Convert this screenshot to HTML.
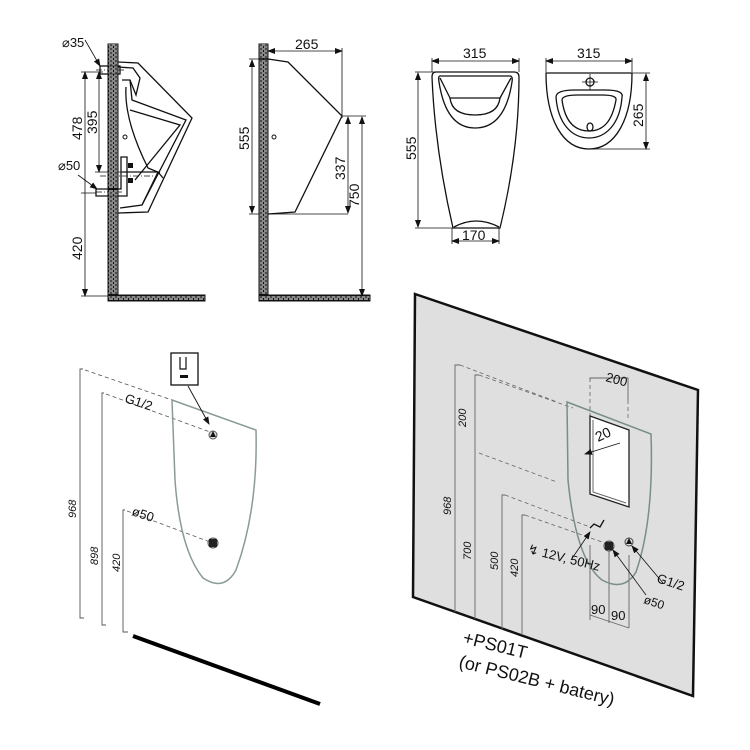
<!DOCTYPE html>
<html><head><meta charset="utf-8"><style>
html,body{margin:0;padding:0;background:#fff;}
svg{display:block;}
text{font-family:"Liberation Sans",sans-serif;fill:#111;}
</style></head><body>
<svg width="750" height="750" viewBox="0 0 750 750" xmlns="http://www.w3.org/2000/svg">
<defs>
<pattern id="brick" width="5" height="4" patternUnits="userSpaceOnUse">
<rect width="5" height="4" fill="#fff"/>
<path d="M0 0H5M0 2H5M0 4H5M1 0V2M3.5 2V4" stroke="#111" stroke-width="1"/>
</pattern>
<marker id="ar" markerWidth="8" markerHeight="6" refX="7" refY="3" orient="auto" markerUnits="userSpaceOnUse"><path d="M0 0L8 3L0 6z" fill="#111"/></marker>
<marker id="al" markerWidth="8" markerHeight="6" refX="1" refY="3" orient="auto" markerUnits="userSpaceOnUse"><path d="M8 0L0 3L8 6z" fill="#111"/></marker>
</defs>

<!-- ============ TOP LEFT: side section ============ -->
<rect x="108" y="44" width="10" height="252" fill="url(#brick)" stroke="#111" stroke-width="1"/>
<rect x="108" y="295" width="97" height="6" fill="url(#brick)" stroke="#111" stroke-width="1"/>
<g fill="none" stroke="#111" stroke-width="1.3">
<path d="M118 62L138 63L192 118L148 212L118 213"/>
<path d="M118 67L133 68L140 78L136 95L130 80L122 80"/>
<path d="M130 80L132 100L186 120L142 205L120 208"/>
<path d="M126 87Q124 120 148 168L160 173"/>
<path d="M130 110L180 125L135 180"/>
<path d="M122 172H158L163 178M158 172L142 205"/>
<rect x="100" y="66" width="20" height="8"/>
<path d="M121 157V189H96V196H127V157Z"/>
</g>
<rect x="128" y="163" width="5" height="5" fill="#111"/><rect x="128" y="178" width="5" height="5" fill="#111"/>
<circle cx="125" cy="137" r="2" fill="none" stroke="#111"/>
<path d="M96 70H125M96 192H122M100 176H155" stroke="#111" stroke-width="0.7" stroke-dasharray="6 2 1 2"/>
<g stroke="#111" stroke-width="0.8" fill="none">
<path d="M85 72V296" marker-start="url(#al)" marker-end="url(#ar)"/>
<path d="M99 72V172" marker-start="url(#al)" marker-end="url(#ar)"/>
<path d="M81 72H103M95 172H122M81 296H108M81 193H96"/>
<path d="M85 40L100 66" marker-end="url(#ar)"/>
<path d="M78 175L97 189" marker-end="url(#ar)"/>
</g>
<text x="62" y="47" font-size="13">⌀35</text>
<text x="58" y="170" font-size="13">⌀50</text>
<text font-size="14" transform="translate(82,140) rotate(-90)">478</text>
<text font-size="14" transform="translate(97,134) rotate(-90)">395</text>
<text font-size="14" transform="translate(82,260) rotate(-90)">420</text>

<!-- ============ TOP: second profile ============ -->
<rect x="259" y="44" width="9" height="252" fill="url(#brick)" stroke="#111" stroke-width="1"/>
<rect x="259" y="295" width="111" height="6" fill="url(#brick)" stroke="#111" stroke-width="1"/>
<path d="M268 59L288 62L342 116L295 212L268 214" fill="none" stroke="#111" stroke-width="1.3"/>
<circle cx="274" cy="137" r="2" fill="none" stroke="#111"/>
<g stroke="#111" stroke-width="0.8" fill="none">
<path d="M268 51H342" marker-start="url(#al)" marker-end="url(#ar)"/>
<path d="M342 48V118"/>
<path d="M252 60V213" marker-start="url(#al)" marker-end="url(#ar)"/>
<path d="M249 59H270M249 214H348"/>
<path d="M348 117V213" marker-start="url(#al)" marker-end="url(#ar)"/>
<path d="M362 117V296" marker-start="url(#al)" marker-end="url(#ar)"/>
<path d="M342 116H366"/>
</g>
<text x="295" y="49" font-size="14">265</text>
<text font-size="14" transform="translate(249,150) rotate(-90)">555</text>
<text font-size="14" transform="translate(345,180) rotate(-90)">337</text>
<text font-size="14" transform="translate(359,207) rotate(-90)">750</text>

<!-- ============ TOP: front view ============ -->
<g fill="none" stroke="#111" stroke-width="1.3">
<path d="M436 72H514Q519 72 519 77Q519 150 500 228H453Q435 150 432 77Q432 72 436 72Z"/>
<path d="M440 76H510Q513 76 512 82Q505 128 475 128Q446 128 439 82Q438 76 440 76Z"/>
<path d="M450 98H500Q498 115 475 115Q452 115 450 98Z"/>
<path d="M440 78L450 98M511 78L500 98"/>
<path d="M454 227Q476 215 499 227"/>
</g>
<g stroke="#111" stroke-width="0.8" fill="none">
<path d="M432 61H519" marker-start="url(#al)" marker-end="url(#ar)"/>
<path d="M432 58V72M519 58V72"/>
<path d="M418 73V227" marker-start="url(#al)" marker-end="url(#ar)"/>
<path d="M415 72H436M415 228H454"/>
<path d="M452 241H499" marker-start="url(#al)" marker-end="url(#ar)"/>
<path d="M452 228V244M499 228V244"/>
</g>
<text x="463" y="58" font-size="14">315</text>
<text font-size="14" transform="translate(416,160) rotate(-90)">555</text>
<text x="462" y="240" font-size="14">170</text>

<!-- ============ TOP: top view ============ -->
<g fill="none" stroke="#111" stroke-width="1.3">
<path d="M546 73H632C632 120 615 149 589 149C563 149 546 120 546 73Z"/>
<path d="M556 97Q556 90 575 90H605Q624 90 622 97C620 125 605 138 589 138C573 138 558 125 556 97Z"/>
<path d="M562 100Q562 95 578 95H602Q617 95 616 100C612 122 603 131 589 131C575 131 565 122 562 100Z"/>
<circle cx="590" cy="82" r="4"/>
<ellipse cx="590" cy="127" rx="3" ry="4"/>
</g>
<path d="M582 82H598M590 74V90" stroke="#111" stroke-width="0.8"/>
<g stroke="#111" stroke-width="0.8" fill="none">
<path d="M546 61H632" marker-start="url(#al)" marker-end="url(#ar)"/>
<path d="M546 58V72M632 58V72"/>
<path d="M646 74V149" marker-start="url(#al)" marker-end="url(#ar)"/>
<path d="M632 73H650M590 149H650"/>
</g>
<text x="577" y="58" font-size="14">315</text>
<text font-size="14" transform="translate(643,127) rotate(-90)">265</text>

<!-- ============ BOTTOM LEFT ============ -->
<g stroke="#555" stroke-width="0.9" fill="none">
<path d="M83 369H80V618H84"/>
<path d="M104 393H102V625H106"/>
<path d="M125 510H123V632H128"/>
</g>
<g stroke="#555" stroke-width="0.8" fill="none" stroke-dasharray="4 3">
<path d="M85 370L172 400"/>
<path d="M106 394L210 432"/>
<path d="M127 511L210 542"/>
</g>
<path d="M172 400L256 430Q258 510 236 570Q224 592 203 578Q180 550 175 480Z" fill="none" stroke="#8a9b95" stroke-width="1.5"/>
<circle cx="213" cy="435" r="4" fill="#ddd" stroke="#555"/><path d="M210 437L213 431L216 437Z" fill="#111"/>
<circle cx="213" cy="543" r="5" fill="#ccc" stroke="#555"/><rect x="209" y="539" width="8" height="8" fill="#222"/>
<rect x="171" y="353" width="27" height="32" fill="#fff" stroke="#111" stroke-width="1.3"/>
<path d="M180 357V369H186V357" fill="none" stroke="#111" stroke-width="1.2"/><rect x="180" y="375" width="8" height="3" fill="#111"/>
<path d="M188 386L209 424" stroke="#111" stroke-width="0.9" marker-end="url(#ar)"/>
<path d="M133 636L320 704" stroke="#000" stroke-width="4"/>
<text x="124" y="402" font-size="13" transform="rotate(18 124 402)">G1/2</text>
<text x="131" y="515" font-size="13" transform="rotate(18 131 515)">ø50</text>
<text font-size="11" font-style="italic" transform="translate(76,518) rotate(-90)">968</text>
<text font-size="11" font-style="italic" transform="translate(98,565) rotate(-90)">898</text>
<text font-size="11" font-style="italic" transform="translate(120,572) rotate(-90)">420</text>

<!-- ============ BOTTOM RIGHT: gray wall ============ -->
<path d="M415 294L698 390L693 696L413 597Z" fill="#dfdfdf" stroke="#111" stroke-width="2.5"/>
<g stroke="#666" stroke-width="0.9" fill="none">
<path d="M455 612V365H460"/>
<path d="M475 619V375H479"/>
<path d="M502 630V495H505"/>
<path d="M522 635V515H525"/>
<path d="M590 617V545M609 623V548M629 628V555M590 615L629 628M590 617V620"/>
<path d="M590 380V378H628V400"/>
</g>
<g stroke="#666" stroke-width="0.8" fill="none" stroke-dasharray="4 3">
<path d="M460 365L557 402"/>
<path d="M479 375L573 408"/>
<path d="M479 453L557 482"/>
<path d="M505 495L590 527"/>
<path d="M525 515L605 543"/>
<path d="M590 378V416M628 400V420"/>
</g>
<path d="M567 402L651 434Q654 520 636 572Q624 592 602 580Q576 560 568 480Z" fill="none" stroke="#788e88" stroke-width="1.5"/>
<path d="M590 416L629 430V507L590 494Z" fill="#fff" stroke="#222" stroke-width="1.3"/>
<path d="M593 420V492L626 503" fill="none" stroke="#666" stroke-width="1"/>
<path d="M585 454L620 443" stroke="#111" stroke-width="0.8" marker-start="url(#al)"/>
<circle cx="609" cy="546" r="5" fill="#bbb" stroke="#444"/><rect x="605" y="542" width="8" height="8" fill="#222"/>
<circle cx="629" cy="542" r="4" fill="#ddd" stroke="#444"/><path d="M626 544L629 538L632 544Z" fill="#111"/>
<path d="M590 528L594 524L600 527L604 520" fill="none" stroke="#111" stroke-width="1.3"/>
<g stroke="#111" stroke-width="0.8" fill="none">
<path d="M571 560L590 532" marker-end="url(#ar)"/>
<path d="M646 595L613 550" marker-end="url(#ar)"/>
<path d="M663 583L632 546" marker-end="url(#ar)"/>
</g>
<text x="605" y="381" font-size="13" transform="rotate(15 605 381)">200</text>
<text x="598" y="442" font-size="14" transform="rotate(-25 598 442)">20</text>
<text x="527" y="553" font-size="13" transform="rotate(14 527 553)">↯ 12V, 50Hz</text>
<text x="656" y="582" font-size="13" transform="rotate(18 656 582)">G1/2</text>
<text x="643" y="603" font-size="12" transform="rotate(18 643 603)">ø50</text>
<text x="591" y="614" font-size="13">90</text>
<text x="611" y="620" font-size="13">90</text>
<text font-size="11" font-style="italic" transform="translate(466,427) rotate(-90)">200</text>
<text font-size="11" font-style="italic" transform="translate(451,515) rotate(-90)">968</text>
<text font-size="11" font-style="italic" transform="translate(471,560) rotate(-90)">700</text>
<text font-size="11" font-style="italic" transform="translate(498,570) rotate(-90)">500</text>
<text font-size="11" font-style="italic" transform="translate(518,577) rotate(-90)">420</text>
<text x="462" y="643" font-size="18" transform="rotate(14 462 643)">+PS01T</text>
<text x="458" y="667" font-size="18" transform="rotate(14 458 667)">(or PS02B + batery)</text>
</svg>
</body></html>
